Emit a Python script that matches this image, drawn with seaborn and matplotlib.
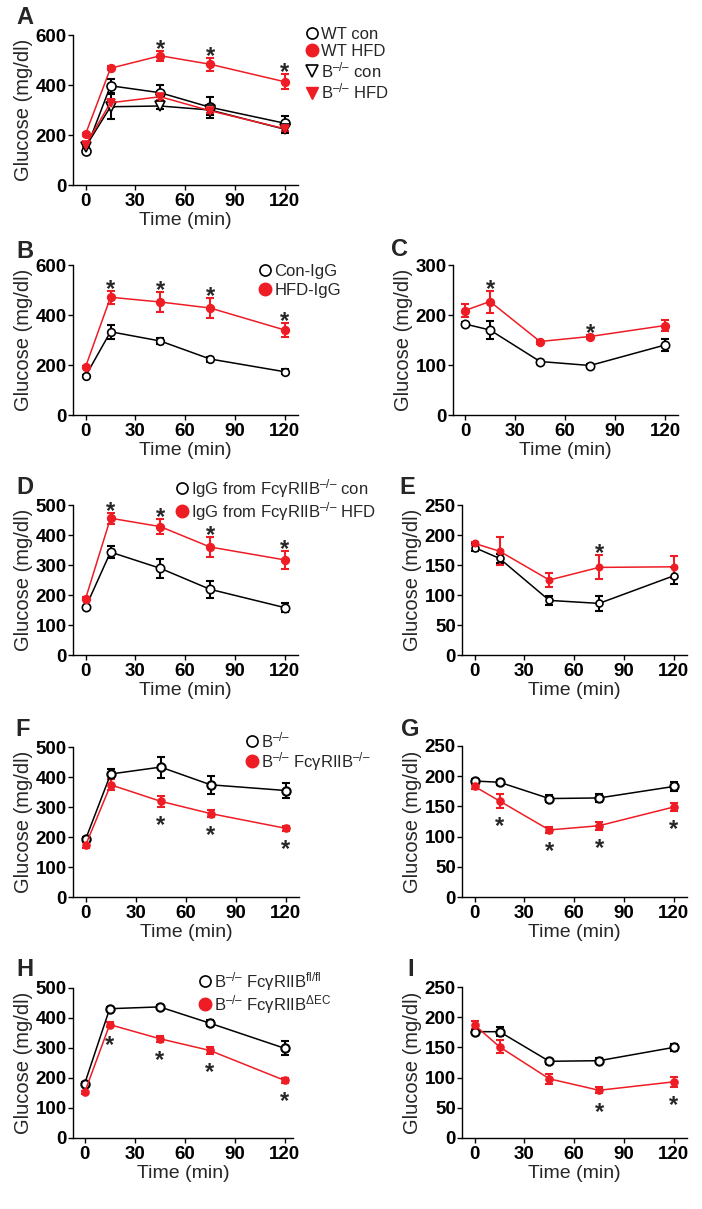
import matplotlib
matplotlib.use("Agg")
import matplotlib.pyplot as plt
import seaborn as sns
from matplotlib.lines import Line2D

sns.set_style("ticks")
plt.rcParams["font.family"] = ["Liberation Sans", "DejaVu Sans"]
plt.rcParams["mathtext.fontset"] = "custom"
plt.rcParams["mathtext.rm"] = "Liberation Sans"
plt.rcParams["mathtext.it"] = "Liberation Sans:italic"
plt.rcParams["mathtext.bf"] = "Liberation Sans:bold"

RED = "#ee1c24"

time = [0, 15, 45, 75, 120]

# A
a_wt_con = [137, 397, 369, 311, 247]
a_wt_con_err = [8, 27, 31, 42, 30]
a_wt_hfd = [204, 467, 517, 483, 413]
a_wt_hfd_err = [6, 8, 20, 26, 30]
a_b_con = [153, 313, 316, 300, 223]
a_b_con_err = [8, 50, 10, 20, 15]
a_b_hfd = [160, 329, 353, 297, 225]
a_b_hfd_err = [6, 15, 12, 10, 10]
a_stars = [45, 75, 120]

# B
b_con = [156, 333, 296, 224, 173]
b_con_err = [5, 27, 12, 10, 10]
b_hfd = [193, 471, 452, 428, 340]
b_hfd_err = [5, 26, 40, 41, 29]
b_stars = [15, 45, 75, 120]

# C
c_con = [182, 170, 107, 99, 140]
c_con_err = [4, 18, 4, 4, 12]
c_hfd = [209, 227, 147, 157, 179]
c_hfd_err = [13, 22, 4, 4, 11]
c_stars = [15, 75]

# D
d_con = [159, 343, 289, 219, 158]
d_con_err = [5, 21, 32, 29, 14]
d_hfd = [188, 456, 428, 360, 317]
d_hfd_err = [5, 18, 25, 34, 31]
d_stars = [15, 45, 75, 120]

# E
e_con = [179, 161, 91, 86, 132]
e_con_err = [6, 8, 8, 13, 14]
e_hfd = [186, 173, 125, 146, 147]
e_hfd_err = [3, 23, 12, 20, 18]
e_stars = [75]

# F
f_con = [193, 410, 433, 374, 355]
f_con_err = [8, 18, 35, 31, 25]
f_ko = [173, 374, 319, 278, 229]
f_ko_err = [10, 18, 18, 12, 8]
f_stars = [45, 75, 120]

# G
g_con = [192, 190, 163, 164, 183]
g_con_err = [4, 4, 6, 7, 8]
g_ko = [183, 159, 111, 118, 149]
g_ko_err = [4, 11, 5, 7, 7]
g_stars = [15, 45, 75, 120]

# H
h_flfl = [181, 431, 437, 383, 299]
h_flfl_err = [5, 5, 5, 10, 23]
h_dec = [152, 378, 331, 292, 192]
h_dec_err = [5, 8, 10, 12, 8]
h_stars = [15, 45, 75, 120]

# I
i_flfl = [176, 176, 127, 128, 150]
i_flfl_err = [4, 7, 4, 4, 6]
i_dec = [187, 151, 98, 79, 93]
i_dec_err = [6, 11, 8, 5, 8]
i_stars = [75, 120]

W, H = 702, 1209
fig = plt.figure(figsize=(W / 100, H / 100), dpi=100)

KO = "$^{\u2013/\u2013}$"


def make_ax(left, right, top, bottom, ymax, ystep, xlim=(-7.6, 128)):
    ax = fig.add_axes([left / W, 1 - bottom / H, (right - left) / W, (bottom - top) / H])
    ax.set_xlim(*xlim)
    ax.set_ylim(0, ymax)
    ax.set_xticks([0, 30, 60, 90, 120])
    ax.set_yticks(range(0, ymax + 1, ystep))
    for s in ["top", "right"]:
        ax.spines[s].set_visible(False)
    for s in ["left", "bottom"]:
        ax.spines[s].set_linewidth(1.0)
        ax.spines[s].set_color("black")
    ax.tick_params(direction="out", length=3.5, width=1.0, labelsize=13.5, colors="black")
    ax.tick_params(axis="y", pad=1)
    ax.tick_params(axis="x", pad=2)
    plt.setp(ax.get_xticklabels() + ax.get_yticklabels(), fontweight="bold")
    ax.set_xlabel("Time (min)", fontsize=14, labelpad=2)
    ax.set_ylabel("Glucose (mg/dl)", fontsize=14.5, labelpad=2)
    return ax


def series(ax, y, err, color, face, marker="o", ms=5.5, mew=1.2):
    ax.errorbar(time, y, yerr=err, fmt="none", ecolor=color, elinewidth=1.5,
                capsize=3.2, capthick=1.5, zorder=2)
    sns.lineplot(x=time, y=y, ax=ax, color=color, linewidth=1.1, marker=marker,
                 markersize=ms, markerfacecolor=face, markeredgecolor=color,
                 markeredgewidth=mew, zorder=3)


def stars(ax, xs, y, err, above=True):
    for x in xs:
        i = time.index(x)
        if above:
            ax.annotate("*", (x, y[i] + err[i]), xytext=(0, 1.0), textcoords="offset points",
                        ha="center", va="center", fontsize=17, fontweight="bold")
        else:
            ax.annotate("*", (x, y[i] - err[i]), xytext=(0, -13.5), textcoords="offset points",
                        ha="center", va="center", fontsize=17, fontweight="bold")


def legend(ax, handles, labels, x, y, spacing=0.15):
    ax.legend(handles, labels, loc="upper left", bbox_to_anchor=(x / W, 1 - y / H),
              bbox_transform=fig.transFigure, frameon=False, fontsize=12,
              handlelength=0.6, handletextpad=0.25, labelspacing=spacing,
              borderpad=0, borderaxespad=0)


def open_h(marker="o"):
    return Line2D([], [], linestyle="none", marker=marker, markersize=8,
                  markerfacecolor="white", markeredgecolor="black", markeredgewidth=1.2)


def red_h(marker="o"):
    return Line2D([], [], linestyle="none", marker=marker, markersize=9,
                  markerfacecolor=RED, markeredgecolor=RED)


def letter(s, x, y):
    fig.text(x / W, 1 - y / H, s, fontsize=17, fontweight="bold", ha="center", va="center")


# Panel A
ax = make_ax(73, 298, 35, 185, 600, 200)
series(ax, a_wt_con, a_wt_con_err, "black", "white", ms=6.5)
series(ax, a_b_con, a_b_con_err, "black", "white", marker="v", ms=6.5)
series(ax, a_b_hfd, a_b_hfd_err, RED, RED, marker="v", ms=6)
series(ax, a_wt_hfd, a_wt_hfd_err, RED, RED, ms=5.5)
stars(ax, a_stars, a_wt_hfd, a_wt_hfd_err)
legend(ax, [open_h(), red_h(), open_h("v"), red_h("v")],
       ["WT con", "WT HFD", "B" + KO + " con", "B" + KO + " HFD"], 307, 27, 0.1)
letter("A", 25, 18)

# Panel B
ax = make_ax(73, 298, 265, 415, 600, 200)
series(ax, b_con, b_con_err, "black", "white", ms=5.5)
series(ax, b_hfd, b_hfd_err, RED, RED, ms=5.5)
stars(ax, b_stars, b_hfd, b_hfd_err)
legend(ax, [open_h(), red_h()], ["Con-IgG", "HFD-IgG"], 260, 264, 0.25)
letter("B", 25, 251)

# Panel C
ax = make_ax(453, 678, 265, 415, 300, 100, xlim=(-7.2, 127.8))
series(ax, c_con, c_con_err, "black", "white", ms=6)
series(ax, c_hfd, c_hfd_err, RED, RED, ms=5.5)
stars(ax, c_stars, c_hfd, c_hfd_err)
letter("C", 400, 250)

# Panel D
ax = make_ax(73, 298, 505, 655, 500, 100)
series(ax, d_con, d_con_err, "black", "white", ms=6)
series(ax, d_hfd, d_hfd_err, RED, RED, ms=5.5)
stars(ax, d_stars, d_hfd, d_hfd_err)
legend(ax, [open_h(), red_h()],
       ["IgG from FcγRIIB" + KO + " con", "IgG from FcγRIIB" + KO + " HFD"], 177, 477, 0.0)
letter("D", 25, 488)

# Panel E
ax = make_ax(462, 687, 505, 655, 250, 50)
series(ax, e_con, e_con_err, "black", "white", ms=5)
series(ax, e_hfd, e_hfd_err, RED, RED, ms=4.5)
stars(ax, e_stars, e_hfd, e_hfd_err)
letter("E", 407, 488)

# Panel F
ax = make_ax(73, 299, 747, 897, 500, 100)
series(ax, f_con, f_con_err, "black", "white", ms=6, mew=1.5)
series(ax, f_ko, f_ko_err, RED, RED, ms=5)
stars(ax, f_stars, f_ko, f_ko_err, above=False)
legend(ax, [open_h(), red_h()], ["B" + KO, "B" + KO + " FcγRIIB" + KO], 247, 730, 0.0)
letter("F", 23, 730)

# Panel G
ax = make_ax(462, 687, 746, 897, 250, 50)
series(ax, g_con, g_con_err, "black", "white", ms=6, mew=1.5)
series(ax, g_ko, g_ko_err, RED, RED, ms=5)
stars(ax, g_stars, g_ko, g_ko_err, above=False)
letter("G", 410, 730)

# Panel H
ax = make_ax(73, 293, 988, 1138, 500, 100, xlim=(-7, 125))
series(ax, h_flfl, h_flfl_err, "black", "white", ms=6, mew=1.5)
series(ax, h_dec, h_dec_err, RED, RED, ms=5)
stars(ax, h_stars, h_dec, h_dec_err, above=False)
legend(ax, [open_h(), red_h()],
       ["B" + KO + " FcγRIIB$^{\\mathrm{fl/fl}}$", "B" + KO + " FcγRIIB$^{\\Delta\\mathrm{EC}}$"],
       200, 970, 0.0)
letter("H", 25, 970)

# Panel I
ax = make_ax(462, 687, 987, 1138, 250, 50)
series(ax, i_flfl, i_flfl_err, "black", "white", ms=6, mew=1.5)
series(ax, i_dec, i_dec_err, RED, RED, ms=5)
stars(ax, i_stars, i_dec, i_dec_err, above=False)
letter("I", 411, 969)

fig.savefig("out.png", dpi=100)
